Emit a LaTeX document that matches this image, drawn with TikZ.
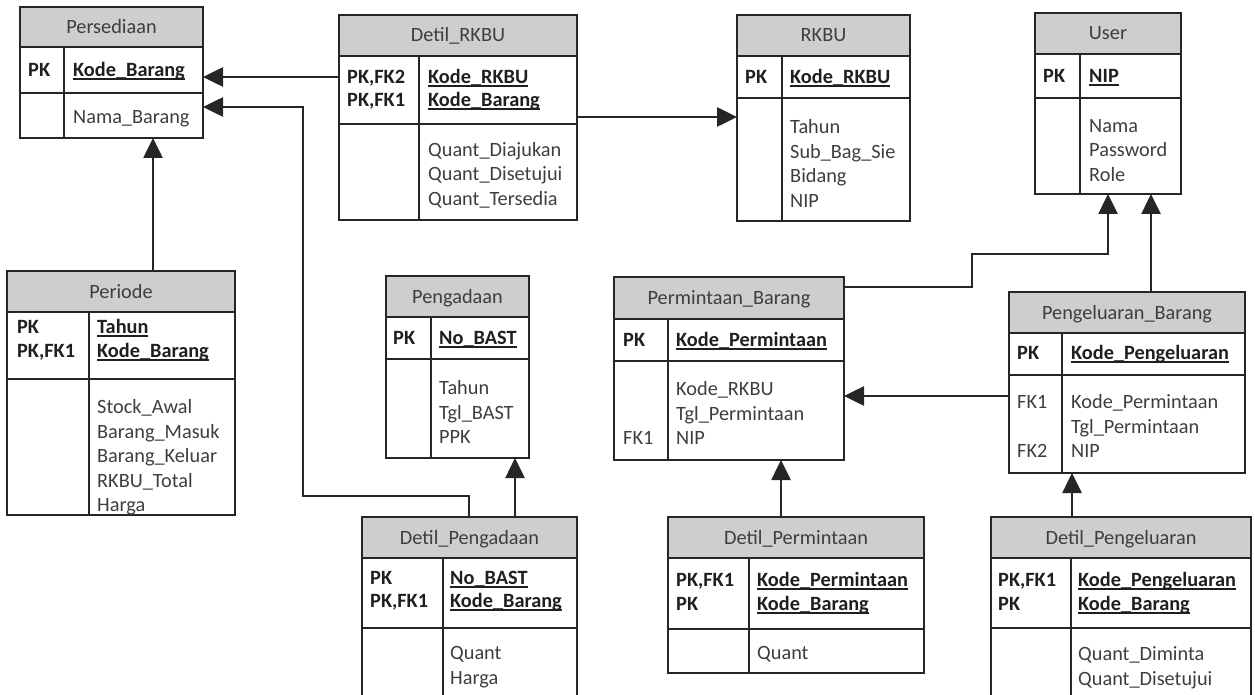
\documentclass[tikz,border=0pt]{standalone}
\usepackage{fontspec}
\setmainfont{Carlito}
\usetikzlibrary{arrows.meta}

\definecolor{hdrgray}{RGB}{206,206,206}
\definecolor{txtgray}{RGB}{62,62,62}
\definecolor{linegray}{RGB}{38,38,38}

\newcommand{\erfont}{\fontsize{20.3}{24}\selectfont}
% underline for key columns
\newcommand{\keyul}[1]{\setbox0\hbox{#1}\rlap{\vrule height -1.6pt depth 3.1pt width \wd0}\box0}
% entity: name, left, top, right, bottom, divider, header bottom, key bottom, title
\newcommand{\entity}[9]{%
  \fill[hdrgray] (#2,#3) rectangle (#4,#7);
  \node[ttl] (#1-t) at ({(#2+#4)/2},{(#3+#7)/2}) {#9};
  \draw[tbl] (#2,#7) -- (#4,#7) (#2,#8) -- (#4,#8) (#6,#7) -- (#6,#5);
  \node[box, minimum width={#4-#2}, minimum height={#5-#3}] (#1) at (#2,#3) {};
}

\begin{document}
\begin{tikzpicture}[x=1pt, y=-1pt,
    tbl/.style={draw=linegray, line width=1.8pt},
    box/.style={tbl, rectangle, inner sep=0pt, outer sep=0pt, anchor=north west},
    ttl/.style={inner sep=0pt, text height=13pt, text depth=0pt, font=\erfont, text=txtgray},
    key/.style={anchor=west, inner sep=0pt, text height=13pt, text depth=0pt, font=\erfont\bfseries, text=black!88},
    att/.style={anchor=west, inner sep=0pt, text height=13pt, text depth=0pt, font=\erfont, text=txtgray},
    fk/.style={draw=linegray, line width=2.6pt, -{Triangle[length=20pt, width=19pt]}}]
  \useasboundingbox (0,0) rectangle (1255,695);
  \clip (0,0) rectangle (1255,695);

  % Persediaan
  \entity{pers}{20}{7}{203}{138}{64}{47}{93}{Persediaan}
  \node[key] (pers-k1) at (28,70) {PK};
  \node[key] (pers-c1) at (73,70) {\keyul{Kode\_Barang}};
  \node[att] (pers-a1) at (73,117) {Nama\_Barang};

  % Detil_RKBU
  \entity{drkbu}{339}{15}{577}{220}{419}{56}{124}{Detil\_RKBU}
  \node[key] (drkbu-k1) at (347,77) {PK,FK2};
  \node[key] (drkbu-k2) at (347,100) {PK,FK1};
  \node[key] (drkbu-c1) at (428,77) {\keyul{Kode\_RKBU}};
  \node[key] (drkbu-c2) at (428,100) {\keyul{Kode\_Barang}};
  \foreach \t [count=\i] in {Quant\_Diajukan, Quant\_Disetujui, Quant\_Tersedia}
    \node[att] (drkbu-a\i) at (428,{150+24.5*(\i-1)}) {\t};

  % RKBU
  \entity{rkbu}{737}{15}{910}{221}{782}{56}{98}{RKBU}
  \node[key] (rkbu-k1) at (745,77) {PK};
  \node[key] (rkbu-c1) at (790,77) {\keyul{Kode\_RKBU}};
  \foreach \t [count=\i] in {Tahun, Sub\_Bag\_Sie, Bidang, NIP}
    \node[att] (rkbu-a\i) at (790,{127.5+24.5*(\i-1)}) {\t};

  % User
  \entity{user}{1035}{13}{1181}{194}{1080}{54}{98}{User}
  \node[key] (user-k1) at (1043,76) {PK};
  \node[key] (user-c1) at (1089,76) {\keyul{NIP}};
  \foreach \t [count=\i] in {Nama, Password, Role}
    \node[att] (user-a\i) at (1089,{126+24.5*(\i-1)}) {\t};

  % Periode
  \entity{per}{7}{271}{235}{515}{89}{312}{379}{Periode}
  \node[key] (per-k1) at (17,327) {PK};
  \node[key] (per-k2) at (17,351) {PK,FK1};
  \node[key] (per-c1) at (97,327) {\keyul{Tahun}};
  \node[key] (per-c2) at (97,351) {\keyul{Kode\_Barang}};
  \foreach \t [count=\i] in {Stock\_Awal, Barang\_Masuk, Barang\_Keluar, RKBU\_Total, Harga}
    \node[att] (per-a\i) at (97,{407+24.5*(\i-1)}) {\t};

  % Pengadaan
  \entity{pg}{386}{276}{529}{458}{431}{317}{359}{Pengadaan}
  \node[key] (pg-k1) at (393,338) {PK};
  \node[key] (pg-c1) at (439,338) {\keyul{No\_BAST}};
  \foreach \t [count=\i] in {Tahun, Tgl\_BAST, PPK}
    \node[att] (pg-a\i) at (439,{388+24.5*(\i-1)}) {\t};

  % Permintaan_Barang
  \entity{pb}{614}{277}{844}{460}{668}{319}{361}{Permintaan\_Barang}
  \node[key] (pb-k1) at (623,340) {PK};
  \node[key] (pb-c1) at (676,340) {\keyul{Kode\_Permintaan}};
  \node[att] (pb-f1) at (623,438) {FK1};
  \foreach \t [count=\i] in {Kode\_RKBU, Tgl\_Permintaan, NIP}
    \node[att] (pb-a\i) at (676,{389+24.5*(\i-1)}) {\t};

  % Pengeluaran_Barang
  \entity{pgb}{1009}{292}{1245}{473}{1062}{333}{375}{Pengeluaran\_Barang}
  \node[key] (pgb-k1) at (1017,353) {PK};
  \node[key] (pgb-c1) at (1071,353) {\keyul{Kode\_Pengeluaran}};
  \node[att] (pgb-f1) at (1017,402) {FK1};
  \node[att] (pgb-f2) at (1017,451) {FK2};
  \foreach \t [count=\i] in {Kode\_Permintaan, Tgl\_Permintaan, NIP}
    \node[att] (pgb-a\i) at (1071,{402+24.5*(\i-1)}) {\t};

  % Detil_Pengadaan
  \entity{dpg}{362}{517}{577}{720}{443}{558}{628}{Detil\_Pengadaan}
  \node[key] (dpg-k1) at (370,578) {PK};
  \node[key] (dpg-k2) at (370,601) {PK,FK1};
  \node[key] (dpg-c1) at (450,578) {\keyul{No\_BAST}};
  \node[key] (dpg-c2) at (450,601) {\keyul{Kode\_Barang}};
  \foreach \t [count=\i] in {Quant, Harga}
    \node[att] (dpg-a\i) at (450,{653+24.5*(\i-1)}) {\t};

  % Detil_Permintaan
  \entity{dpm}{668}{517}{924}{673}{749}{558}{629}{Detil\_Permintaan}
  \node[key] (dpm-k1) at (676,580) {PK,FK1};
  \node[key] (dpm-k2) at (676,604) {PK};
  \node[key] (dpm-c1) at (757,580) {\keyul{Kode\_Permintaan}};
  \node[key] (dpm-c2) at (757,604) {\keyul{Kode\_Barang}};
  \node[att] (dpm-a1) at (757,653) {Quant};

  % Detil_Pengeluaran
  \entity{dpl}{991}{517}{1251}{720}{1071}{558}{628}{Detil\_Pengeluaran}
  \node[key] (dpl-k1) at (998,580) {PK,FK1};
  \node[key] (dpl-k2) at (998,604) {PK};
  \node[key] (dpl-c1) at (1078,580) {\keyul{Kode\_Pengeluaran}};
  \node[key] (dpl-c2) at (1078,604) {\keyul{Kode\_Barang}};
  \foreach \t [count=\i] in {Quant\_Diminta, Quant\_Disetujui}
    \node[att] (dpl-a\i) at (1078,{654+24.5*(\i-1)}) {\t};

  % relations
  \draw[fk] (drkbu.west |- 0,77) -- (pers.east |- 0,77);
  \draw[fk] (drkbu.east |- 0,117) -- (rkbu.west |- 0,117);
  \draw[fk] (per.north -| 153,0) -- (pers.south -| 153,0);
  \draw[fk] (dpg.north -| 469,0) |- (303,496) |- (pers.east |- 0,107);
  \draw[fk] (dpg.north -| 515,0) -- (pg.south -| 515,0);
  \draw[fk] (dpm.north -| 781,0) -- (pb.south -| 781,0);
  \draw[fk] (pgb.west |- 0,396) -- (pb.east |- 0,396);
  \draw[fk] (pb.east |- 0,287) -| (972,254) -| (user.south -| 1108,0);
  \draw[fk] (pgb.north -| 1151,0) -- (user.south -| 1151,0);
  \draw[fk] (dpl.north -| 1072,0) -- (pgb.south -| 1072,0);
\end{tikzpicture}
\end{document}
